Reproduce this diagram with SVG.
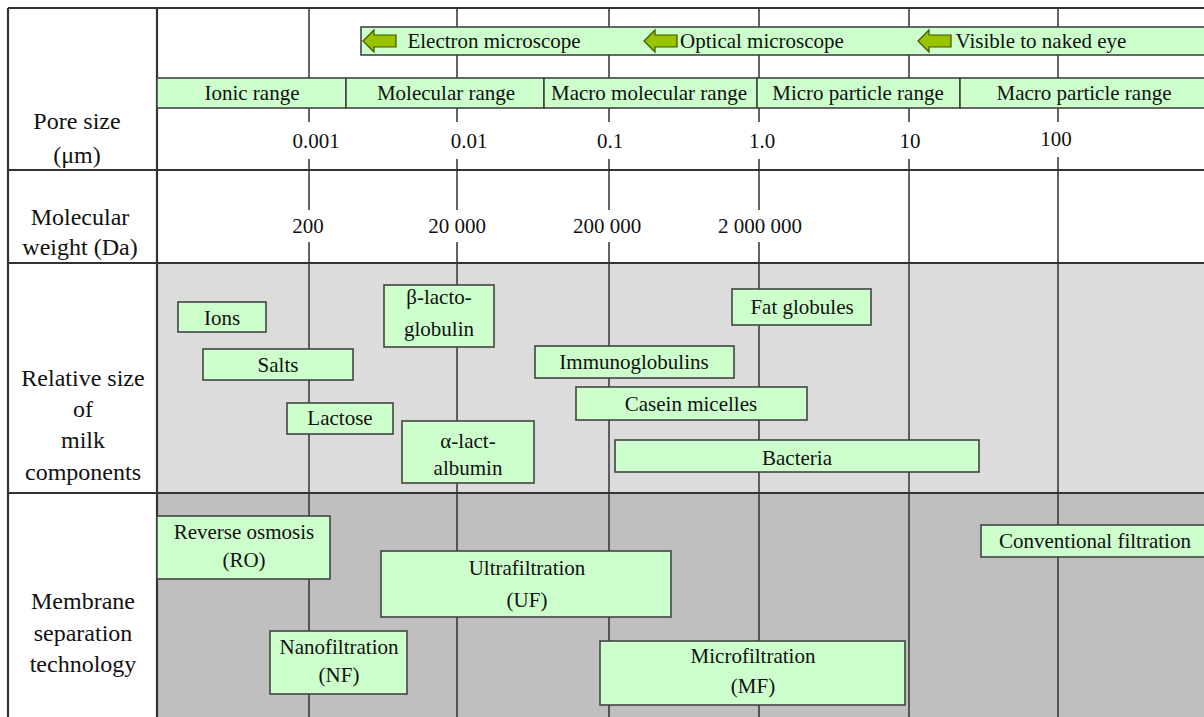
<svg xmlns="http://www.w3.org/2000/svg" width="1204" height="717" viewBox="0 0 1204 717" font-family="Liberation Serif, Times New Roman, serif">
<style>
text{fill:#111;text-anchor:middle}
.t{font-size:21px}
.h{font-size:24px}
.box{fill:#ccffcc;stroke:#444;stroke-width:1.6}
.grid{stroke:#333;stroke-width:1.5;fill:none}
.sep{stroke:#333;stroke-width:2.2;fill:none}
.arr{fill:#99c200;stroke:#3d5200;stroke-width:1.2}
</style>
<defs>
<path id="arrow" class="arr" d="M0,0 L11,-11 L11,-6 L33,-6 L33,6 L11,6 L11,11 Z"/>
</defs>
<rect x="0" y="0" width="1204" height="717" fill="#fff"/>
<rect x="157" y="263" width="1047" height="230" fill="#dcdcdc"/>
<rect x="157" y="493" width="1047" height="224" fill="#bfbfbf"/>
<g id="grid">
<path class="grid" d="M309,8V122M309,159V210M309,242V717"/>
<path class="grid" d="M457,8V27M457,55V122M457,159V210M457,242V717"/>
<path class="grid" d="M609,8V27M609,55V122M609,159V210M609,242V717"/>
<path class="grid" d="M759,8V27M759,55V122M759,159V210M759,242V717"/>
<path class="grid" d="M909,8V27M909,55V122M909,159V717"/>
<path class="grid" d="M1058,8V27M1058,55V122M1058,157V717"/>
<path class="sep" d="M8,8H1204M8,8V717M157,8V717M8,170H1204M8,263H1204M8,493H1204"/>
</g>
<g id="labels" font-family="Liberation Serif, serif">
<text class="h" x="77" y="129">Pore size</text>
<text class="h" x="77" y="163">(μm)</text>
<text class="h" x="80" y="225">Molecular</text>
<text class="h" x="80" y="255">weight (Da)</text>
<text class="h" x="83" y="386">Relative size</text>
<text class="h" x="83" y="417">of</text>
<text class="h" x="83" y="448">milk</text>
<text class="h" x="83" y="480">components</text>
<text class="h" x="83" y="609">Membrane</text>
<text class="h" x="83" y="641">separation</text>
<text class="h" x="83" y="672">technology</text>
</g>
<g id="microscope">
<rect class="box" x="361" y="27" width="850" height="28"/>
<use href="#arrow" x="363" y="41"/>
<use href="#arrow" x="644" y="41"/>
<use href="#arrow" x="918" y="41"/>
<text class="t" x="494" y="48">Electron microscope</text>
<text class="t" x="762" y="48">Optical microscope</text>
<text class="t" x="1041" y="48">Visible to naked eye</text>
</g>
<g id="ranges">
<rect class="box" x="157" y="78" width="189" height="30"/>
<rect class="box" x="346" y="78" width="198" height="30"/>
<rect class="box" x="544" y="78" width="213" height="30"/>
<rect class="box" x="757" y="78" width="203" height="30"/>
<rect class="box" x="960" y="78" width="250" height="30"/>
<text class="t" x="252" y="100">Ionic range</text>
<text class="t" x="446" y="100">Molecular range</text>
<text class="t" x="649" y="100">Macro molecular range</text>
<text class="t" x="858" y="100">Micro particle range</text>
<text class="t" x="1084" y="100">Macro particle range</text>
</g>
<g id="ticks">
<text class="t" x="316" y="148">0.001</text>
<text class="t" x="469" y="148">0.01</text>
<text class="t" x="610" y="148">0.1</text>
<text class="t" x="762" y="148">1.0</text>
<text class="t" x="910" y="148">10</text>
<text class="t" x="1056" y="146">100</text>
<text class="t" x="308" y="233">200</text>
<text class="t" x="457" y="233">20 000</text>
<text class="t" x="607" y="233">200 000</text>
<text class="t" x="760" y="233">2 000 000</text>
</g>
<g id="ions"><rect class="box" x="178" y="302" width="88" height="30"/><text class="t" x="222" y="325">Ions</text></g>
<g id="salts"><rect class="box" x="203" y="349" width="150" height="31"/><text class="t" x="278" y="372">Salts</text></g>
<g id="lactose"><rect class="box" x="287" y="403" width="106" height="31"/><text class="t" x="340" y="425">Lactose</text></g>
<g id="blg"><rect class="box" x="384" y="285" width="110" height="62"/><text class="t" x="439" y="304">β-lacto-</text><text class="t" x="439" y="336">globulin</text></g>
<g id="ala"><rect class="box" x="402" y="421" width="132" height="62"/><text class="t" x="468" y="448">α-lact-</text><text class="t" x="468" y="475">albumin</text></g>
<g id="immuno"><rect class="box" x="535" y="346" width="199" height="32"/><text class="t" x="634" y="369">Immunoglobulins</text></g>
<g id="casein"><rect class="box" x="576" y="387" width="231" height="33"/><text class="t" x="691" y="411">Casein micelles</text></g>
<g id="bacteria"><rect class="box" x="615" y="440" width="364" height="32"/><text class="t" x="797" y="465">Bacteria</text></g>
<g id="fat"><rect class="box" x="732" y="289" width="139" height="36"/><text class="t" x="802" y="314">Fat globules</text></g>
<g id="ro"><rect class="box" x="157" y="516" width="173" height="63"/><text class="t" x="244" y="539">Reverse osmosis</text><text class="t" x="244" y="567">(RO)</text></g>
<g id="uf"><rect class="box" x="381" y="551" width="290" height="66"/><text class="t" x="527" y="575">Ultrafiltration</text><text class="t" x="527" y="607">(UF)</text></g>
<g id="nf"><rect class="box" x="270" y="631" width="137" height="63"/><text class="t" x="339" y="654">Nanofiltration</text><text class="t" x="339" y="682">(NF)</text></g>
<g id="mf"><rect class="box" x="600" y="641" width="305" height="64"/><text class="t" x="753" y="663">Microfiltration</text><text class="t" x="753" y="693">(MF)</text></g>
<g id="conv"><rect class="box" x="981" y="525" width="230" height="32"/><text class="t" x="1095" y="548">Conventional filtration</text></g>
</svg>
